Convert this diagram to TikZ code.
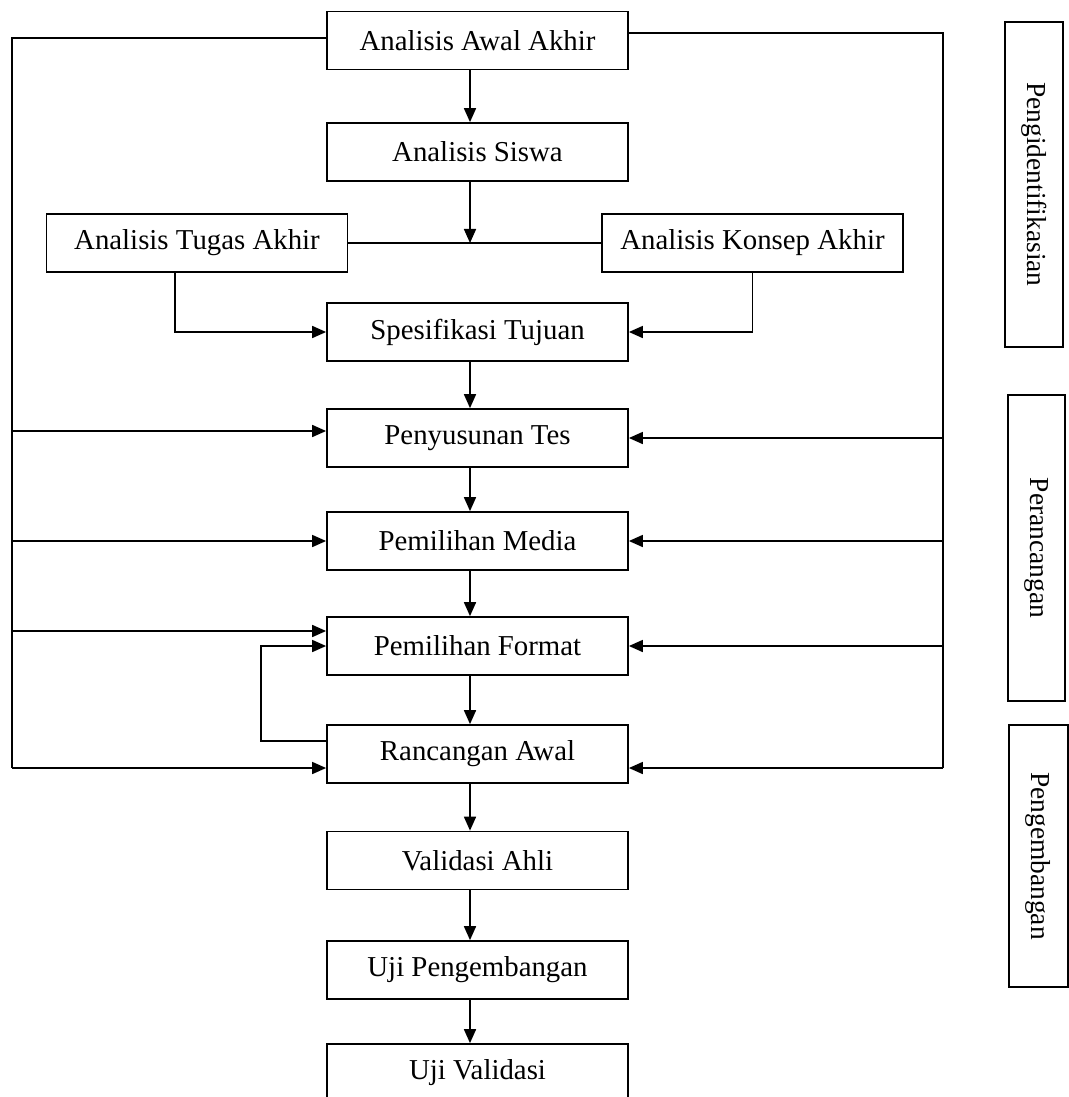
\documentclass[tikz,border=0pt]{standalone}
\usepackage{fontspec}
\setmainfont{Liberation Serif}
\usetikzlibrary{arrows.meta}

\begin{document}
\begin{tikzpicture}[x=0.025cm,y=-0.025cm,line width=1.2pt,
  box/.style={draw,minimum width=7.525cm,minimum height=1.45cm,inner sep=0pt,font=\fontsize{20.5}{24}\selectfont},
  side/.style={draw,rotate=-90,inner sep=0pt,font=\fontsize{19.5}{23}\selectfont},
  arr/.style={-{Triangle[length=0.35cm,width=0.3cm]}}]

\useasboundingbox (0,0) rectangle (1069,1097);
\clip (0,0) rectangle (1069,1097);

% main column
\node[box] (awal) at (477.5,40.5) {Analisis Awal Akhir};
\node[box] (siswa) at (477.5,152) {Analisis Siswa};
\node[box] (tugas) at (197,243) {Analisis Tugas Akhir};
\node[box] (konsep) at (752.5,243) {Analisis Konsep Akhir};
\node[box] (spes) at (477.5,332) {Spesifikasi Tujuan};
\node[box] (tes) at (477.5,438) {Penyusunan Tes};
\node[box] (media) at (477.5,541) {Pemilihan Media};
\node[box] (format) at (477.5,646) {Pemilihan Format};
\node[box] (rancang) at (477.5,754) {Rancangan Awal};
\node[box] (validasi) at (477.5,860.5) {Validasi Ahli};
\node[box] (ujipeng) at (477.5,970) {Uji Pengembangan};
\node[box] (ujival) at (477.5,1073) {Uji Validasi};

% phases
\node[side,minimum width=8.125cm,minimum height=1.45cm] (ident) at (1034,184.5) {Pengidentifikasian};
\node[side,minimum width=7.65cm,minimum height=1.425cm] (rancangan) at (1036.5,548) {Perancangan};
\node[side,minimum width=6.55cm,minimum height=1.475cm] (kembang) at (1038.5,856) {Pengembangan};

\coordinate (sp) at (470,0);
\coordinate (lb) at (12,768);
\coordinate (rb) at (943,768);
\coordinate (fb) at (261,0);

% spine
\foreach \a/\b in {awal/siswa,spes/tes,tes/media,media/format,format/rancang,rancang/validasi,validasi/ujipeng,ujipeng/ujival}
  \draw[arr] (\a.south -| sp) -- (\b.north -| sp);
\draw[arr] (siswa.south -| sp) -- (tugas.east -| sp);
\draw (tugas.east) -- (konsep.west);
\draw[arr] ([xshift=-0.55cm]tugas.south) |- (spes.west);
\draw[arr] (konsep.south) |- (spes.east);

% side buses
\draw ([yshift=0.06cm]awal.west) -| (lb);
\draw ([yshift=0.19cm]awal.east) -| (rb);
\foreach \n/\s in {tes/0.175,media/0,format/0.375,rancang/-0.35}
  \draw[arr] ([yshift=\s cm]\n.west -| lb) -- ([yshift=\s cm]\n.west);
\foreach \n/\s in {tes/0,media/0,format/0,rancang/-0.35}
  \draw[arr] ([yshift=\s cm]\n.east -| rb) -- ([yshift=\s cm]\n.east);

% back to format
\draw[arr] ([yshift=0.325cm]rancang.west) -| (fb |- format.west) -- (format.west);

\end{tikzpicture}
\end{document}
